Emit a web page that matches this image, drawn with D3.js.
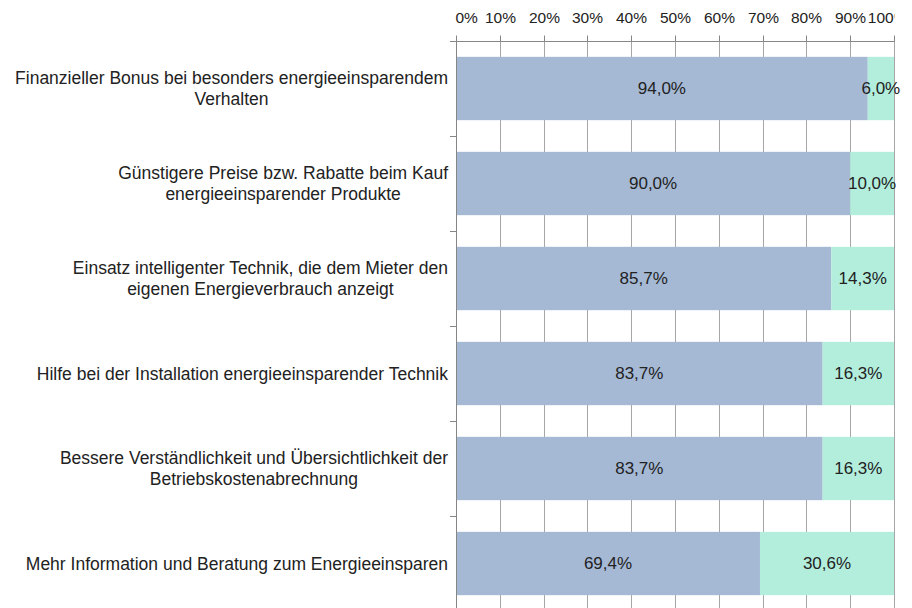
<!DOCTYPE html>
<html>
<head>
<meta charset="utf-8">
<script src="https://cdn.jsdelivr.net/npm/d3@7"></script>
<style>
  body { margin: 0; background: #fff; }
  svg { display: block; font-family: "Liberation Sans", Arial, sans-serif; }
</style>
</head>
<body>
<div id="chart"></div>
<script>
var svgWidth = 912;
var svgHeight = 608;

// categories (each entry is the wrapped lines of the label)
var categories = [
  ["Finanzieller Bonus bei besonders energieeinsparendem", "Verhalten"],
  ["Günstigere Preise bzw. Rabatte beim Kauf", "energieeinsparender Produkte"],
  ["Einsatz intelligenter Technik, die dem Mieter den", "eigenen Energieverbrauch anzeigt"],
  ["Hilfe bei der Installation energieeinsparender Technik"],
  ["Bessere Verständlichkeit und Übersichtlichkeit der", "Betriebskostenabrechnung"],
  ["Mehr Information und Beratung zum Energieeinsparen"]
];
var seriesA = [94.0, 90.0, 85.7, 83.7, 83.7, 69.4];
var seriesB = [6.0, 10.0, 14.3, 16.3, 16.3, 30.6];
var tickValues = [0, 10, 20, 30, 40, 50, 60, 70, 80, 90, 100];

var colorA = "#a5b9d5";
var colorB = "#b3eedd";
var textColor = "#222";

var plot = { left: 456, right: 894, top: 41, bottom: 611 };

var svg = d3.select("#chart")
  .append("svg")
  .attr("width", svgWidth)
  .attr("height", svgHeight);

var x = d3.scaleLinear()
  .domain([0, 100])
  .range([plot.left, plot.right]);

var idx = d3.range(categories.length);
var y = d3.scaleBand()
  .domain(idx)
  .range([plot.top, plot.bottom])
  .paddingInner(1 / 3)
  .paddingOuter(1 / 6);

// clip for the right edge of the top axis labels (local coords of axis group)
svg.append("clipPath").attr("id", "clipTop")
  .append("rect").attr("x", 0).attr("y", -45).attr("width", 893).attr("height", 45);

// vertical gridlines
svg.append("g")
  .selectAll("line")
  .data(tickValues.slice(1))
  .enter()
  .append("line")
  .attr("x1", d => Math.round(x(d)) + 0.5)
  .attr("x2", d => Math.round(x(d)) + 0.5)
  .attr("y1", plot.top)
  .attr("y2", svgHeight)
  .attr("stroke", "#a6a6a6")
  .attr("stroke-width", 1);

// top axis
var xAxis = svg.append("g")
  .attr("transform", `translate(0, ${plot.top + 0.5})`)
  .call(d3.axisTop(x).tickValues(tickValues).tickFormat(d => d + "%").tickSize(6).tickSizeOuter(0));

xAxis.select(".domain").remove();
xAxis.selectAll(".tick line").attr("stroke", "#868686");
xAxis.selectAll(".tick").attr("transform", d => `translate(${Math.round(x(d)) + 0.5},0)`);
xAxis.selectAll(".tick text")
  .attr("y", -19)
  .attr("fill", textColor)
  .attr("font-size", "15.5px");
xAxis.selectAll(".tick text").filter(d => d === 0).attr("text-anchor", "start").attr("x", -1);
// last label runs past the chart edge and is cut off, as in the original
xAxis.selectAll(".tick text").filter(d => d === 100)
  .attr("text-anchor", "end")
  .attr("x", 13)
  .attr("clip-path", "url(#clipTopLast)");
xAxis.select(".tick:last-of-type").append("clipPath").attr("id", "clipTopLast")
  .append("rect").attr("x", -40).attr("y", -45).attr("width", 40).attr("height", 45);

svg.append("line")
  .attr("x1", plot.left - 6).attr("x2", plot.right)
  .attr("y1", plot.top + 0.5).attr("y2", plot.top + 0.5)
  .attr("stroke", "#868686");

// left axis with ticks at band boundaries
svg.append("line")
  .attr("x1", plot.left + 0.5).attr("x2", plot.left + 0.5)
  .attr("y1", plot.top).attr("y2", svgHeight)
  .attr("stroke", "#868686");
svg.append("g")
  .selectAll("line")
  .data(idx.slice(1))
  .enter()
  .append("line")
  .attr("x1", plot.left - 6).attr("x2", plot.left)
  .attr("y1", i => Math.round(plot.top + i * y.step()) + 0.5)
  .attr("y2", i => Math.round(plot.top + i * y.step()) + 0.5)
  .attr("stroke", "#868686");

// bars
var rows = idx.map(i => ({ i: i, a: seriesA[i], b: seriesB[i] }));

svg.append("g")
  .selectAll("rect")
  .data(rows)
  .enter()
  .append("rect")
  .attr("x", x(0) + 1)
  .attr("y", d => y(d.i))
  .attr("width", d => x(d.a) - x(0) - 1)
  .attr("height", y.bandwidth())
  .attr("fill", colorA);

svg.append("g")
  .selectAll("rect")
  .data(rows)
  .enter()
  .append("rect")
  .attr("x", d => x(d.a))
  .attr("y", d => y(d.i))
  .attr("width", d => x(d.a + d.b) - x(d.a))
  .attr("height", y.bandwidth())
  .attr("fill", colorB);

var fmt = v => v.toFixed(1).replace(".", ",") + "%";

// data labels
svg.append("g")
  .selectAll("text")
  .data(rows)
  .enter()
  .append("text")
  .attr("x", d => x(d.a / 2))
  .attr("y", d => y(d.i) + y.bandwidth() / 2)
  .attr("dy", "0.35em")
  .attr("text-anchor", "middle")
  .attr("font-size", "17px")
  .attr("fill", textColor)
  .text(d => fmt(d.a));

svg.append("g")
  .selectAll("text")
  .data(rows)
  .enter()
  .append("text")
  .attr("x", d => x(d.a + d.b / 2))
  .attr("y", d => y(d.i) + y.bandwidth() / 2)
  .attr("dy", "0.35em")
  .attr("text-anchor", "middle")
  .attr("font-size", "17px")
  .attr("fill", textColor)
  .text(d => fmt(d.b));

// category labels, block right aligned, lines centred on each other
var labelRight = 448;
var lineH = 21;
var labelGroups = svg.append("g")
  .selectAll("g")
  .data(idx)
  .enter()
  .append("g");

labelGroups.each(function (i) {
  var g = d3.select(this);
  var lines = categories[i];
  var cy = y(i) + y.bandwidth() / 2;
  var texts = g.selectAll("text")
    .data(lines)
    .enter()
    .append("text")
    .attr("y", (d, k) => cy + (k - (lines.length - 1) / 2) * lineH)
    .attr("dy", "0.35em")
    .attr("text-anchor", "middle")
    .attr("font-size", "17.5px")
    .attr("fill", textColor)
    .text(d => d);
  var maxW = d3.max(texts.nodes(), n => n.getComputedTextLength());
  texts.attr("x", labelRight - maxW / 2);
});
</script>
</body>
</html>
